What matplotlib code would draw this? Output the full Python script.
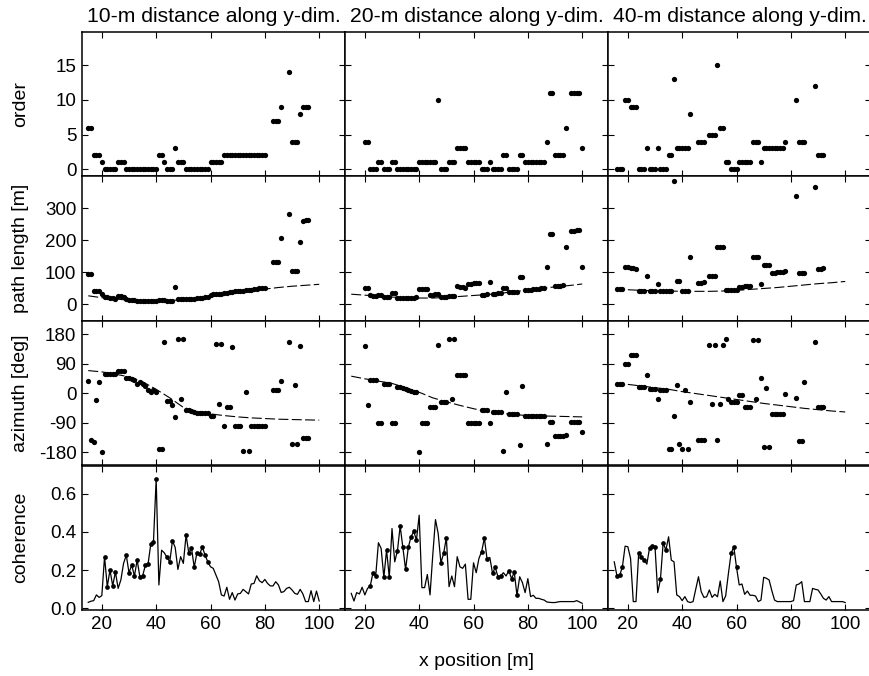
import numpy as np
import matplotlib
matplotlib.use('Agg')
import matplotlib.pyplot as plt

plt.rcParams['font.family'] = ['Liberation Sans', 'DejaVu Sans']

titles = ['10-m distance along y-dim.', '20-m distance along y-dim.', '40-m distance along y-dim.']
row_labels = ['order', 'path length [m]', 'azimuth [deg]', 'coherence']

# ---- 10 m ----
x_10 = list(range(15, 81)) + [83, 84, 85, 86] + list(range(89, 97))
order_10 = [6, 6, 2, 2, 2, 1,
            0, 0, 0, 0, 0,
            1, 1, 1,
            0, 0, 0, 0, 0, 0, 0, 0, 0, 0, 0, 0,
            2, 2, 1, 0, 0, 0, 3, 1, 1, 1,
            0, 0, 0, 0, 0, 0, 0, 0, 0,
            1, 1, 1, 1, 1,
            2, 2, 2, 2, 2, 2, 2, 2, 2, 2, 2, 2, 2, 2, 2, 2,
            7, 7, 7, 9,
            14, 4, 4, 4, 8, 9, 9, 9]
path_10 = [94, 94, 41, 42, 41, 33,
           23, 21, 20, 18, 16,
           25, 24, 22,
           16, 14, 13, 12, 11, 10, 9, 9, 9, 9, 10, 10,
           12, 12, 13, 9, 9, 10, 54, 15, 15, 15,
           15, 15, 16, 17, 18, 19, 20, 21, 22,
           30, 31, 31, 32, 33,
           35, 36, 37, 38, 40, 41, 42, 42, 43, 44, 45, 47, 48, 49, 50, 51,
           133, 133, 133, 206,
           281, 103, 103, 103, 194, 262, 263, 264]
azim_10 = [37, -143, -147, -22, 33, -180,
           60, 60, 60, 60, 60,
           68, 68, 68,
           45, 45, 43, 39, 29, 33, 29, 23, 11, 5, 11, 5,
           -170, -170, 156, -25, -25, -35, -72, 164, -16, 164,
           -50, -52, -55, -57, -60, -60, -60, -60, -60,
           -68, -68, 149, -32, 149,
           -101, -41, -41, 140, -101, -101, -101, -176, 4, -176, -101, -101, -101, -101, -101, -101,
           11, 11, 11, 37,
           155, -154, 26, -154, 145, -137, -137, -137]

# ---- 20 m ----
x_20 = list(range(20, 95)) + list(range(96, 101))
order_20 = [4, 4, 0, 0, 0, 1, 1, 0, 0, 0, 1, 1,
            0, 0, 0, 0, 0, 0, 0, 0,
            1, 1, 1, 1, 1, 1, 1, 10,
            0, 0, 0, 1, 1, 1, 3, 3, 3, 3,
            1, 1, 1, 1, 1, 0, 0, 0, 1,
            0, 0, 0, 0, 2, 2, 0, 0, 0, 0, 2, 2,
            1, 1, 1, 1, 1, 1, 1, 1, 4, 11, 11,
            2, 2, 2, 2, 6,
            11, 11, 11, 11, 3]
path_20 = [51, 50, 27, 26, 25, 30, 30, 22, 22, 22, 34, 34,
           20, 20, 20, 20, 20, 20, 20, 21,
           46, 47, 47, 48, 29, 30, 31, 32,
           22, 23, 23, 24, 25, 25, 56, 55, 53, 51,
           63, 64, 65, 66, 67, 30, 30, 31, 70,
           32, 33, 34, 35, 49, 50, 37, 38, 38, 39, 86, 86,
           43, 44, 45, 46, 47, 48, 49, 50, 115, 220, 220,
           56, 57, 58, 59, 178,
           229, 230, 231, 232, 116]
azim_20 = [144, -37, 40, 40, 40, -92, -92, 29, 29, 29, -92, -92,
           20, 18, 16, 13, 9, 7, 5, 5,
           -180, -92, -92, -92, -43, -43, -43, 147,
           -26, -26, -26, 164, -16, 164, 55, 55, 55, 55,
           -92, -92, -92, -92, -92, -52, -52, -52, -92,
           -57, -57, -57, -57, -176, 4, -62, -62, -62, -62, -158, 22,
           -69, -69, -69, -69, -69, -69, -69, -69, -154, -87, -87,
           -131, -131, -131, -131, -126,
           -87, -87, -87, -87, -117]

# ---- 40 m ----
x_40 = list(range(16, 44)) + [46, 47, 48] + list(range(50, 79)) + [82, 83, 84, 85, 89, 90, 91, 92]
order_40 = [0, 0, 0, 10, 10, 9, 9, 9, 0, 0, 0, 3, 0, 0, 0, 3, 0, 0, 0, 2, 2, 13, 3, 3, 3, 3, 3, 8,
            4, 4, 4,
            5, 5, 5, 15, 6, 6, 1, 1, 0, 0, 0, 1, 1, 1, 1, 1, 4, 4, 4, 1, 3, 3, 3, 3, 3, 3, 3, 3, 4,
            10, 4, 4, 4,
            12, 2, 2, 2]
path_40 = [46, 46, 46, 116, 115, 114, 113, 111, 42, 42, 42, 88, 41, 41, 41, 62, 40, 40, 40, 41, 41, 387, 73, 72, 42, 42, 42, 148,
           66, 67, 68,
           88, 88, 88, 179, 179, 179, 45, 44, 43, 43, 44, 54, 55, 56, 57, 58, 147, 147, 147, 64, 124, 124, 123, 97, 98, 100, 101, 102, 104,
           339, 96, 97, 97,
           368, 110, 111, 113]
azim_40 = [29, 29, 29, 88, 88, 115, 115, 115, 19, 19, 19, 55, 14, 14, 14, -18, 10, 10, 10, -170, -170, -70, 24, -156, -170, 11, -170, -28,
           -143, -143, -143,
           148, -33, 148, -143, -33, 148, 164, -16, -26, -26, -26, -6, -6, -43, -43, -43, 161, -19, 161, 47, -163, 17, -163, -62, -62, -62, -62, -62, -1,
           -14, -146, -146, 35,
           156, -43, -43, -43]

# coherence, 1-m steps from 15 to 100 m
x_coh = list(range(15, 101))
coh_10 = [0.031, 0.037, 0.04, 0.07, 0.057, 0.066, 0.27, 0.113, 0.2, 0.118, 0.19, 0.104, 0.148, 0.235,
          0.278, 0.186, 0.226, 0.169, 0.252, 0.165, 0.169, 0.224, 0.231, 0.334, 0.346, 0.677, 0.122,
          0.304, 0.29, 0.266, 0.243, 0.353, 0.318, 0.203, 0.27, 0.235, 0.383, 0.29, 0.316, 0.214, 0.29,
          0.283, 0.32, 0.278, 0.243, 0.217, 0.209, 0.174, 0.139, 0.07, 0.064, 0.11, 0.047, 0.082, 0.043,
          0.075, 0.078, 0.099, 0.087, 0.075, 0.127, 0.13, 0.17, 0.144, 0.134, 0.151, 0.13, 0.117, 0.117,
          0.139, 0.122, 0.083, 0.087, 0.104, 0.11, 0.096, 0.078, 0.073, 0.099, 0.075, 0.035, 0.035, 0.092,
          0.035, 0.09, 0.038]
coh_20 = [0.078, 0.038, 0.082, 0.075, 0.11, 0.07, 0.104, 0.117, 0.186, 0.169, 0.343, 0.313, 0.162, 0.304,
          0.162, 0.417, 0.243, 0.301, 0.43, 0.318, 0.203, 0.318, 0.374, 0.402, 0.357, 0.487, 0.108, 0.108,
          0.177, 0.07, 0.278, 0.464, 0.391, 0.238, 0.287, 0.369, 0.113, 0.169, 0.113, 0.27, 0.217, 0.209,
          0.231, 0.047, 0.047, 0.238, 0.186, 0.261, 0.297, 0.367, 0.256, 0.266, 0.183, 0.214, 0.165, 0.169,
          0.186, 0.169, 0.197, 0.155, 0.188, 0.068, 0.165, 0.134, 0.082, 0.155, 0.061, 0.068, 0.052, 0.052,
          0.047, 0.043, 0.033, 0.031, 0.03, 0.03, 0.033, 0.035, 0.035, 0.035, 0.035, 0.035, 0.035, 0.04,
          0.033, 0.026]
coh_40 = [0.243, 0.169, 0.172, 0.217, 0.325, 0.322, 0.261, 0.035, 0.035, 0.29, 0.268, 0.252, 0.231, 0.317,
          0.325, 0.322, 0.082, 0.151, 0.343, 0.304, 0.374, 0.252, 0.243, 0.07, 0.061, 0.04, 0.061, 0.035,
          0.03, 0.035, 0.1, 0.165, 0.087, 0.057, 0.06, 0.096, 0.057, 0.073, 0.06, 0.143, 0.035, 0.064, 0.18,
          0.287, 0.322, 0.214, 0.122, 0.127, 0.073, 0.09, 0.068, 0.068, 0.064, 0.035, 0.043, 0.162, 0.157,
          0.148, 0.092, 0.043, 0.035, 0.035, 0.035, 0.035, 0.035, 0.035, 0.04, 0.122, 0.127, 0.139, 0.035,
          0.035, 0.035, 0.104, 0.099, 0.096, 0.075, 0.052, 0.043, 0.061, 0.035, 0.035, 0.035, 0.035, 0.035,
          0.03]

# dashed reference curves (every 5 m)
model_x = [15, 20, 25, 30, 35, 40, 45, 50, 55, 60, 65, 70, 75, 80, 85, 90, 95, 100]
path_model_10 = [26, 20, 16, 12, 10, 10, 11, 14, 18, 23, 29, 35, 41, 47, 52, 56, 59, 62]
path_model_20 = [31, 28, 25, 22, 20, 19, 19, 21, 24, 27, 30, 34, 39, 44, 49, 54, 58, 63]
path_model_40 = [47, 45, 43, 42, 41, 40, 40, 40, 41, 43, 46, 49, 52, 56, 60, 64, 67, 71]
azim_model_10 = [69, 65, 58, 50, 35, 12, -14, -43, -55, -63, -68, -72, -75, -77, -79, -80, -81, -82]
azim_model_20 = [52, 44, 37, 30, 17, 3, -14, -26, -37, -47, -56, -61, -65, -68, -69, -70, -71, -72]
azim_model_40 = [31, 27, 22, 17, 12, 5, -1, -7, -13, -19, -25, -31, -36, -41, -46, -50, -54, -57]

columns = [
    (x_10, order_10, path_10, azim_10, coh_10, path_model_10, azim_model_10),
    (x_20, order_20, path_20, azim_20, coh_20, path_model_20, azim_model_20),
    (x_40, order_40, path_40, azim_40, coh_40, path_model_40, azim_model_40),
]

ylims = [(-1.05, 19.8), (-53, 400), (-220, 220), (-0.009, 0.747)]
yticks = [[0, 5, 10, 15], [0, 100, 200, 300], [-180, -90, 0, 90, 180], [0.0, 0.2, 0.4, 0.6]]
yticklabels = [['0', '5', '10', '15'], ['0', '100', '200', '300'],
               ['-180', '-90', '0', '90', '180'], ['0.0', '0.2', '0.4', '0.6']]

fig = plt.figure(figsize=(8.69, 6.76), dpi=100)
L, B = 82 / 869, 1 - 610 / 676
W, H = 263 / 869, 144.5 / 676

dot = dict(ls='none', marker='o', ms=3.8, mew=0, color='black', zorder=3)
dash = dict(color='black', lw=0.8, dashes=(9, 3), zorder=2)

for c, (xs, od, pl, az, coh, pm, am) in enumerate(columns):
    axs = [fig.add_axes([L + c * W, B + (3 - r) * H, W, H]) for r in range(4)]
    mx = model_x[1:] if c == 2 else model_x
    axs[0].plot(xs, od, **dot)
    axs[1].plot(mx, pm[-len(mx):], **dash)
    axs[1].plot(xs, pl, **dot)
    axs[2].plot(mx, am[-len(mx):], **dash)
    axs[2].plot(xs, az, **dot)
    axs[3].plot(x_coh, coh, color='black', lw=0.9, zorder=2)
    zero_x = [x for x, o in zip(xs, od) if o == 0]
    axs[3].plot(zero_x, [coh[x_coh.index(x)] for x in zero_x], ls='none', marker='o',
                ms=3.4, mew=0, color='black', zorder=3)

    for r, ax in enumerate(axs):
        ax.set_xlim(12.7, 109.5)
        ax.set_ylim(*ylims[r])
        ax.set_xticks([20, 40, 60, 80, 100])
        ax.set_yticks(yticks[r])
        ax.tick_params(direction='in', top=True, right=True, length=4, width=0.8,
                       labelsize=13.5, pad=4)
        for sp in ax.spines.values():
            sp.set_linewidth(1.1)
        if r < 3:
            ax.set_xticklabels([])
        if c == 0:
            ax.set_yticklabels(yticklabels[r])
            ax.set_ylabel(row_labels[r], fontsize=14)
            ax.yaxis.set_label_coords(-0.2, 0.5)
        else:
            ax.set_yticklabels([])
    axs[0].set_title(titles[c], fontsize=15.2, pad=7)

fig.text((82 + 871) / 2 / 869, 1 - 662 / 676, 'x position [m]', ha='center', va='center', fontsize=14)

fig.savefig('out.png', dpi=100)
